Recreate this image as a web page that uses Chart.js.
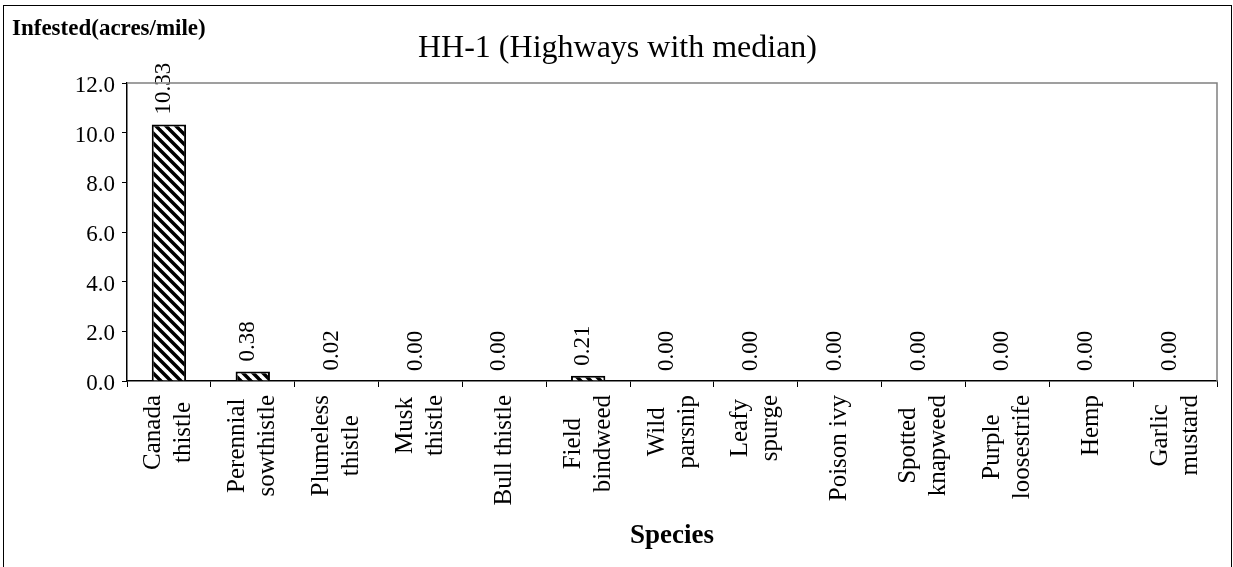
<!DOCTYPE html>
<html>
<head>
<meta charset="utf-8">
<title>HH-1 (Highways with median)</title>
<script src="https://cdn.jsdelivr.net/npm/chart.js@4.4.1/dist/chart.umd.min.js"></script>
<style>
    html, body { margin: 0; padding: 0; background: #fff; }
    canvas { display: block; }
</style>
</head>
<body>
<canvas id="species-chart" width="1233" height="567"></canvas>
<script>
// Chart data
const speciesLabels = [
    ['Canada', 'thistle'],
    ['Perennial', 'sowthistle'],
    ['Plumeless', 'thistle'],
    ['Musk', 'thistle'],
    ['Bull thistle'],
    ['Field', 'bindweed'],
    ['Wild', 'parsnip'],
    ['Leafy', 'spurge'],
    ['Poison ivy'],
    ['Spotted', 'knapweed'],
    ['Purple', 'loosestrife'],
    ['Hemp'],
    ['Garlic', 'mustard']
];
const infestedValues = [10.33, 0.38, 0.02, 0.00, 0.00, 0.21, 0.00, 0.00, 0.00, 0.00, 0.00, 0.00, 0.00];
const yTickValues = [0, 2, 4, 6, 8, 10, 12];

const chartTitle = 'HH-1 (Highways with median)';
const yAxisTitle = 'Infested(acres/mile)';
const xAxisTitle = 'Species';

const SERIF = '"Liberation Serif", "Times New Roman", serif';

// Diagonal hatch used to fill the bars
function createHatchPattern() {
    const size = 10;
    const tile = document.createElement('canvas');
    tile.width = size;
    tile.height = size;
    const c = tile.getContext('2d');
    c.fillStyle = '#fff';
    c.fillRect(0, 0, size, size);
    c.strokeStyle = '#000';
    c.lineWidth = 3.5;
    for (let k = -1; k <= 1; k++) {
        c.beginPath();
        c.moveTo(k * size - 1, -1);
        c.lineTo(k * size + size + 1, size + 1);
        c.stroke();
    }
    const ctx = document.getElementById('species-chart').getContext('2d');
    return ctx.createPattern(tile, 'repeat');
}

// Extra drawing: frame, axis titles, category labels, value labels
const extrasPlugin = {
    id: 'extras',
    beforeDraw(chart) {
        const ctx = chart.ctx;
        ctx.save();
        ctx.fillStyle = '#fff';
        ctx.fillRect(0, 0, chart.width, chart.height);
        ctx.restore();
    },
    afterDatasetsDraw(chart) {
        const ctx = chart.ctx;
        const meta = chart.getDatasetMeta(0);
        ctx.save();
        ctx.fillStyle = '#000';
        ctx.font = '23px ' + SERIF;
        ctx.textAlign = 'left';
        ctx.textBaseline = 'middle';
        meta.data.forEach((bar, i) => {
            const value = chart.data.datasets[0].data[i];
            ctx.save();
            ctx.translate(bar.x - 5, bar.y - 10);
            ctx.rotate(-Math.PI / 2);
            ctx.fillText(value.toFixed(2), 0, 0);
            ctx.restore();
        });
        ctx.restore();
    },
    afterDraw(chart) {
        const ctx = chart.ctx;
        const area = chart.chartArea;
        const xScale = chart.scales.x;
        ctx.save();

        // outer border
        ctx.strokeStyle = '#000';
        ctx.lineWidth = 1;
        ctx.strokeRect(3.5, 5.5, 1228, 600);

        // plot area top and right edge
        ctx.strokeStyle = '#808080';
        ctx.lineWidth = 1.5;
        ctx.beginPath();
        ctx.moveTo(area.left, area.top);
        ctx.lineTo(area.right, area.top);
        ctx.lineTo(area.right, area.bottom);
        ctx.stroke();

        // y axis title (top left, horizontal)
        ctx.fillStyle = '#000';
        ctx.font = 'bold 23px ' + SERIF;
        ctx.textAlign = 'left';
        ctx.textBaseline = 'alphabetic';
        ctx.fillText(yAxisTitle, 12, 35);

        // x axis title
        ctx.font = 'bold 27px ' + SERIF;
        ctx.textAlign = 'center';
        ctx.fillText(xAxisTitle, (area.left + area.right) / 2, 543);

        // category labels, rotated, lines centred on each other
        ctx.font = '25px ' + SERIF;
        ctx.textBaseline = 'middle';
        const lineGap = 30;
        const labelTop = area.bottom + 14;
        chart.data.labels.forEach((lines, i) => {
            const x = xScale.getPixelForTick(i);
            const longest = Math.max(...lines.map(l => ctx.measureText(l).width));
            ctx.save();
            ctx.translate(x, labelTop);
            ctx.rotate(-Math.PI / 2);
            lines.forEach((line, j) => {
                const offset = (j - (lines.length - 1) / 2) * lineGap;
                ctx.fillText(line, -longest / 2, offset);
            });
            ctx.restore();
        });

        ctx.restore();
    }
};

const chart = new Chart(document.getElementById('species-chart'), {
    type: 'bar',
    data: {
        labels: speciesLabels,
        datasets: [{
            label: 'Infested (acres/mile)',
            data: infestedValues,
            backgroundColor: createHatchPattern(),
            borderColor: '#000',
            borderWidth: 2,
            categoryPercentage: 1.0,
            barPercentage: 0.41
        }]
    },
    plugins: [extrasPlugin],
    options: {
        responsive: false,
        animation: false,
        layout: {
            padding: { left: 18, right: 16, top: 0, bottom: 0 }
        },
        plugins: {
            legend: { display: false },
            tooltip: { enabled: false },
            title: {
                display: true,
                text: chartTitle,
                color: '#000',
                font: { family: SERIF, size: 32, weight: 'normal' },
                padding: { top: 29, bottom: 15.6 }
            }
        },
        scales: {
            x: {
                type: 'category',
                offset: true,
                grid: {
                    offset: true,
                    drawOnChartArea: false,
                    drawTicks: true,
                    tickLength: 6,
                    color: '#000'
                },
                border: { color: '#000', width: 1.5 },
                ticks: { display: false },
                afterFit: (scale) => { scale.height = 186; }
            },
            y: {
                min: 0,
                max: 12,
                afterBuildTicks: (scale) => {
                    scale.ticks = yTickValues.map(v => ({ value: v }));
                },
                grid: {
                    drawOnChartArea: false,
                    drawTicks: true,
                    tickLength: 5,
                    color: '#000'
                },
                border: { color: '#000', width: 1.5 },
                ticks: {
                    color: '#000',
                    padding: 7,
                    labelOffset: 3,
                    font: { family: SERIF, size: 23 },
                    callback: (v) => Number(v).toFixed(1)
                },
                afterFit: (scale) => { scale.width = 109; }
            }
        }
    }
});
</script>
</body>
</html>
